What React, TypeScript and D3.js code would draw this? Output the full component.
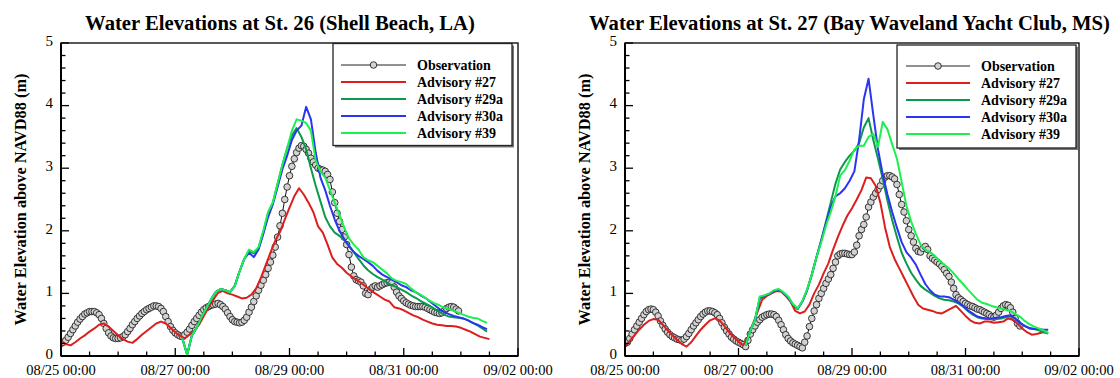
import React from "react";
import * as d3 from "d3";

// time axis: hours since 08/25 00:00 (UTC)
const BASE = Date.UTC(2005, 7, 25);
const END = Date.UTC(2005, 8, 2);

const seriesNames = ["Observation", "Advisory #27", "Advisory #29a", "Advisory #30a", "Advisory #39"];
const seriesColors = ["#222222", "#dc1e1e", "#0b9a4c", "#2b34f2", "#1cf04e"];

// ---------- St. 26 (Shell Beach, LA) ----------
// observation, hourly from t=0
const obs26 = [
  0.20, 0.22, 0.25, 0.30, 0.36, 0.42, 0.48, 0.54, 0.59, 0.63,
  0.67, 0.69, 0.71, 0.71, 0.71, 0.69, 0.66, 0.60, 0.52, 0.44,
  0.37, 0.32, 0.29, 0.28, 0.28, 0.29, 0.31, 0.34, 0.39, 0.44,
  0.50, 0.55, 0.60, 0.64, 0.68, 0.71, 0.74, 0.76, 0.78, 0.80,
  0.80, 0.79, 0.76, 0.71, 0.63, 0.55, 0.47, 0.41, 0.37, 0.34,
  0.32, 0.31, 0.34, 0.38, 0.43, 0.49, 0.55, 0.60, 0.65, 0.70,
  0.74, 0.77, 0.79, 0.81, 0.82, 0.83, 0.84, 0.82, 0.79, 0.75,
  0.69, 0.63, 0.58, 0.55, 0.54, 0.53, 0.54, 0.57, 0.62, 0.70,
  0.78, 0.87, 0.96, 1.05, 1.13, 1.21, 1.30, 1.40, 1.50, 1.61,
  1.74, 1.90, 2.08, 2.28, 2.50, 2.70, 2.88, 3.03, 3.15, 3.25,
  3.32, 3.36, 3.35, 3.30, 3.24, 3.16, 3.10, 3.05, 3.00, 2.98,
  2.97, 2.95, 2.90, 2.82, 2.62, 2.45, 2.28, 2.15, 2.02, 1.90,
  1.78, 1.62, 1.42, 1.28, 1.22, 1.20, 1.18, 1.12, 1.00, 0.98,
  1.06, 1.10, 1.12, 1.10, 1.12, 1.14, 1.16, 1.17, 1.18, 1.17,
  1.10, 1.02, 0.96, 0.92, 0.88, 0.85, 0.83, 0.81, 0.80, 0.79,
  0.79, 0.79, 0.79, 0.78, 0.76, 0.74, 0.72, 0.70, 0.69, 0.68,
  0.69, 0.72, 0.76, 0.78, 0.79, 0.78, 0.75, 0.72,
];
// Advisory #27, every 2 h from t=0
const adv27_26 = [
  0.24, 0.19, 0.17, 0.22, 0.28, 0.33, 0.39, 0.44, 0.50, 0.52,
  0.47, 0.40, 0.33, 0.27, 0.23, 0.21, 0.27, 0.34, 0.40, 0.46,
  0.52, 0.55, 0.52, 0.45, 0.38, 0.32, 0.28, 0.34, 0.40, 0.50,
  0.64, 0.78, 0.90, 1.01, 1.04, 1.00, 0.98, 0.95, 0.92, 0.93,
  0.98, 1.08, 1.25, 1.45, 1.65, 1.84, 1.98, 2.18, 2.37, 2.55,
  2.68, 2.58, 2.45, 2.30, 2.07, 1.97, 1.78, 1.57, 1.47, 1.41,
  1.33, 1.27, 1.22, 1.17, 1.11, 1.05, 1.00, 0.95, 0.90, 0.87,
  0.78, 0.76, 0.73, 0.69, 0.65, 0.62, 0.58, 0.55, 0.52, 0.50,
  0.49, 0.48, 0.48, 0.47, 0.45, 0.42, 0.39, 0.35, 0.31, 0.29, 0.27,
];
// Advisories #29a, #30a, #39, every 2 h from t=51
const adv29a_26 = [
  0.28, 0.02, 0.33, 0.45, 0.62, 0.76, 0.90, 1.02, 1.07, 1.05,
  1.02, 1.12, 1.35, 1.55, 1.68, 1.64, 1.72, 1.98, 2.28, 2.45,
  2.75, 3.05, 3.32, 3.52, 3.64, 3.50, 3.30, 3.00, 2.72, 2.47,
  2.22, 2.07, 1.97, 1.92, 1.85, 1.77, 1.66, 1.55, 1.45, 1.37,
  1.31, 1.26, 1.22, 1.17, 1.13, 1.10, 1.06, 1.02, 0.97, 0.93,
  0.88, 0.84, 0.80, 0.75, 0.70, 0.66, 0.63, 0.62, 0.61, 0.60,
  0.57, 0.53, 0.49, 0.44, 0.39,
];
const adv30a_26 = [
  0.28, 0.02, 0.33, 0.45, 0.62, 0.76, 0.90, 1.02, 1.07, 1.05,
  1.02, 1.12, 1.35, 1.55, 1.65, 1.58, 1.70, 1.95, 2.22, 2.42,
  2.70, 2.98, 3.20, 3.45, 3.60, 3.68, 3.98, 3.78, 3.25, 2.85,
  2.65, 2.40, 2.18, 2.00, 1.87, 1.75, 1.66, 1.60, 1.55, 1.50,
  1.44, 1.36, 1.30, 1.26, 1.22, 1.18, 1.13, 1.10, 1.05, 1.02,
  0.97, 0.93, 0.87, 0.81, 0.75, 0.70, 0.67, 0.64, 0.62, 0.60,
  0.57, 0.53, 0.50, 0.46, 0.43,
];
const adv39_26 = [
  0.28, 0.02, 0.33, 0.45, 0.62, 0.76, 0.90, 1.02, 1.07, 1.05,
  1.02, 1.12, 1.35, 1.55, 1.70, 1.66, 1.74, 2.00, 2.30, 2.45,
  2.75, 3.05, 3.32, 3.60, 3.78, 3.76, 3.72, 3.60, 3.12, 2.95,
  2.85, 2.65, 2.45, 2.26, 2.05, 1.88, 1.78, 1.70, 1.58, 1.53,
  1.50, 1.44, 1.38, 1.32, 1.24, 1.20, 1.18, 1.15, 1.08, 1.02,
  0.98, 0.93, 0.88, 0.84, 0.81, 0.77, 0.75, 0.72, 0.69, 0.66,
  0.63, 0.61, 0.60, 0.56, 0.53,
];

// ---------- St. 27 (Bay Waveland Yacht Club, MS) ----------
const obs27 = [
  0.20, 0.22, 0.28, 0.35, 0.42, 0.48, 0.54, 0.60, 0.66, 0.71,
  0.74, 0.75, 0.74, 0.70, 0.64, 0.56, 0.49, 0.43, 0.38, 0.34,
  0.31, 0.29, 0.27, 0.26, 0.25, 0.27, 0.31, 0.36, 0.42, 0.48,
  0.53, 0.58, 0.63, 0.67, 0.70, 0.72, 0.72, 0.71, 0.69, 0.66,
  0.60, 0.53, 0.46, 0.40, 0.35, 0.30, 0.27, 0.24, 0.22, 0.20,
  0.18, 0.15, 0.25, 0.35, 0.42, 0.48, 0.54, 0.58, 0.62, 0.64,
  0.66, 0.67, 0.67, 0.66, 0.63, 0.57, 0.50, 0.42, 0.34, 0.28,
  0.24, 0.21, 0.19, 0.17, 0.15, 0.13, 0.22, 0.32, 0.47, 0.60,
  0.72, 0.82, 0.92, 1.00, 1.08, 1.16, 1.23, 1.30, 1.40, 1.50,
  1.60, 1.63, 1.64, 1.64, 1.63, 1.62, 1.62, 1.66, 1.77, 1.92,
  2.02, 2.10, 2.22, 2.38, 2.46, 2.54, 2.60, 2.66, 2.72, 2.80,
  2.86, 2.88, 2.88, 2.86, 2.83, 2.74, 2.58, 2.42, 2.30, 2.16,
  2.02, 1.92, 1.82, 1.72, 1.67, 1.66, 1.72, 1.75, 1.70, 1.60,
  1.56, 1.53, 1.50, 1.47, 1.43, 1.38, 1.32, 1.27, 1.18, 1.08,
  0.98, 0.93, 0.90, 0.87, 0.84, 0.82, 0.80, 0.79, 0.77, 0.75,
  0.74, 0.72, 0.70, 0.68, 0.66, 0.63, 0.62, 0.65, 0.70, 0.76,
  0.80, 0.82, 0.81, 0.77, 0.70, 0.60, 0.52, 0.48,
];
const adv27_27 = [
  0.15, 0.24, 0.33, 0.42, 0.50, 0.56, 0.59, 0.58, 0.50, 0.41,
  0.33, 0.26, 0.19, 0.15, 0.22, 0.32, 0.42, 0.50, 0.57, 0.60,
  0.57, 0.48, 0.38, 0.30, 0.23, 0.17, 0.30, 0.50, 0.70, 0.90,
  0.96, 1.00, 1.04, 1.03, 0.96, 0.87, 0.72, 0.68, 0.71, 0.82,
  1.00, 1.14, 1.32, 1.48, 1.70, 1.90, 2.08, 2.24, 2.36, 2.50,
  2.65, 2.85, 2.84, 2.72, 2.45, 2.05, 1.74, 1.55, 1.40, 1.25,
  1.10, 0.95, 0.82, 0.76, 0.74, 0.72, 0.69, 0.68, 0.72, 0.76,
  0.80, 0.72, 0.64, 0.57, 0.53, 0.52, 0.55, 0.55, 0.53, 0.54,
  0.55, 0.60, 0.58, 0.52, 0.44, 0.38, 0.34, 0.35, 0.37, 0.39,
];
const adv29a_27 = [
  0.17, 0.40, 0.58, 0.92, 0.96, 0.99, 1.04, 1.06, 1.01, 0.94,
  0.82, 0.75, 0.87, 1.05, 1.30, 1.58, 1.85, 2.15, 2.45, 2.75,
  2.98, 3.10, 3.20, 3.28, 3.40, 3.65, 3.80, 3.45, 3.15, 2.83,
  2.48, 2.17, 1.90, 1.65, 1.48, 1.33, 1.22, 1.12, 1.06, 1.01,
  0.96, 0.92, 0.90, 0.89, 0.87, 0.84, 0.79, 0.72, 0.66, 0.62,
  0.60, 0.59, 0.59, 0.59, 0.60, 0.62, 0.63, 0.60, 0.53, 0.48,
  0.45, 0.43, 0.41, 0.38, 0.36,
];
const adv30a_27 = [
  0.17, 0.40, 0.58, 0.92, 0.96, 0.99, 1.04, 1.06, 1.01, 0.94,
  0.82, 0.75, 0.87, 1.05, 1.30, 1.58, 1.85, 2.12, 2.38, 2.55,
  2.60, 2.68, 2.80, 2.95, 3.45, 4.10, 4.43, 3.85, 3.30, 2.90,
  2.58, 2.30, 2.05, 1.82, 1.66, 1.57, 1.46, 1.30, 1.15, 1.05,
  0.98, 0.95, 0.95, 0.94, 0.90, 0.85, 0.80, 0.73, 0.68, 0.63,
  0.61, 0.60, 0.60, 0.61, 0.62, 0.64, 0.65, 0.60, 0.53, 0.48,
  0.44, 0.43, 0.43, 0.42, 0.42,
];
const adv39_27 = [
  0.17, 0.40, 0.58, 0.95, 0.97, 1.00, 1.05, 1.07, 1.02, 0.95,
  0.83, 0.76, 0.88, 1.06, 1.30, 1.58, 1.82, 2.08, 2.30, 2.55,
  2.88, 2.97, 3.12, 3.30, 3.36, 3.36, 3.50, 3.55, 3.34, 3.74,
  3.62, 3.38, 3.15, 2.78, 2.40, 2.15, 1.95, 1.78, 1.70, 1.66,
  1.60, 1.52, 1.46, 1.40, 1.32, 1.23, 1.15, 1.06, 0.98, 0.90,
  0.85, 0.83, 0.80, 0.78, 0.76, 0.74, 0.72, 0.67, 0.63, 0.56,
  0.51, 0.47, 0.44, 0.41, 0.37,
];

const yMax = 5;
const font = "'Liberation Serif', 'Times New Roman', serif";

type Pt = [Date, number];
const toPoints = (values: number[], startHour: number, stepHour: number): Pt[] =>
  values.map((v, i) => [new Date(BASE + (startHour + i * stepHour) * 3600000), v]);

type PanelProps = {
  id: string;
  left: number;
  right: number;
  title: string;
  titleX: number;
  obs: number[];
  models: number[][];
  legend: { x: number; y: number; w: number; h: number; l0: number; l1: number; tx: number; row0: number };
};

const Panel = ({ id, left, right, title, titleX, obs, models, legend }: PanelProps) => {
  const top = 43;
  const bottom = 356;
  const x = d3.scaleUtc().domain([new Date(BASE), new Date(END)]).range([left, right]);
  const y = d3.scaleLinear().domain([0, yMax]).range([bottom, top]);
  const line = d3
    .line<Pt>()
    .x((d) => x(d[0]))
    .y((d) => y(d[1]));

  const obsPts = toPoints(obs, 0, 1);
  const modelPts = [
    toPoints(models[0], 0, 2),
    toPoints(models[1], 51, 2),
    toPoints(models[2], 51, 2),
    toPoints(models[3], 51, 2),
  ];

  const xTicks = d3.utcHour.every(12)!.range(new Date(BASE), new Date(END + 1));
  const fmt = d3.utcFormat("%m/%d %H:%M");
  const yTicks = d3.range(0, 25.5, 1).map((k) => k / 5);

  return (
    <g>
      <defs>
        <clipPath id={`clip-${id}`}>
          <rect x={left} y={top - 2} width={right - left} height={bottom - top + 2} />
        </clipPath>
      </defs>
      <text
        x={titleX}
        y={30}
        textAnchor="middle"
        fontFamily={font}
        fontWeight="bold"
        fontSize={20.7}
      >
        {title}
      </text>
      <text
        transform={`translate(${left - 41},${(top + bottom) / 2}) rotate(-90)`}
        textAnchor="middle"
        dy="0.35em"
        fontFamily={font}
        fontWeight="bold"
        fontSize={16.3}
      >
        Water Elevation above NAVD88 (m)
      </text>

      {/* series */}
      <g clipPath={`url(#clip-${id})`}>
        <path d={line(obsPts) ?? ""} fill="none" stroke="#111" strokeWidth={1} />
        {obsPts.map((d, i) => (
          <circle key={i} cx={x(d[0])} cy={y(d[1])} r={3.3} fill="#d2d2d2" stroke="#222" strokeWidth={0.9} />
        ))}
        {modelPts.map((pts, i) => (
          <path
            key={i}
            d={line(pts) ?? ""}
            fill="none"
            stroke={seriesColors[i + 1]}
            strokeWidth={2}
            strokeLinejoin="round"
          />
        ))}
      </g>

      {/* frame */}
      <rect x={left} y={top} width={right - left} height={bottom - top} fill="none" stroke="#111" strokeWidth={1.4} />
      <line x1={left} x2={left} y1={top} y2={bottom} stroke="#000" strokeWidth={2} />
      <line x1={left} x2={right} y1={bottom} y2={bottom} stroke="#000" strokeWidth={2} />

      {/* x ticks */}
      {xTicks.map((t, i) => {
        const major = (t.getTime() - BASE) % (48 * 3600000) === 0;
        const px = x(t);
        return (
          <g key={i}>
            <line x1={px} x2={px} y1={bottom} y2={bottom - (major ? 8 : 4.5)} stroke="#000" strokeWidth={1.3} />
            {major && (
              <text x={px} y={374.6} textAnchor="middle" fontFamily={font} fontSize={14.5}>
                {fmt(t)}
              </text>
            )}
          </g>
        );
      })}

      {/* y ticks */}
      {yTicks.map((v, i) => {
        const major = i % 5 === 0;
        const py = y(v);
        return (
          <g key={i}>
            <line x1={left} x2={left + (major ? 8 : 4.5)} y1={py} y2={py} stroke="#000" strokeWidth={1.3} />
            {major && (
              <text x={left - 8} y={py} dy="0.18em" textAnchor="end" fontFamily={font} fontSize={15}>
                {d3.format("d")(v)}
              </text>
            )}
          </g>
        );
      })}

      {/* legend */}
      <rect x={legend.x + 2} y={legend.y + 2} width={legend.w} height={legend.h} fill="#777" />
      <rect x={legend.x} y={legend.y} width={legend.w} height={legend.h} fill="#fff" stroke="#222" strokeWidth={1.3} />
      {seriesNames.map((name, i) => {
        const ry = legend.row0 + i * 17;
        return (
          <g key={name}>
            <line
              x1={legend.l0}
              x2={legend.l1}
              y1={ry}
              y2={ry}
              stroke={seriesColors[i]}
              strokeWidth={i === 0 ? 1 : 2}
            />
            {i === 0 && (
              <circle
                cx={(legend.l0 + legend.l1) / 2}
                cy={ry}
                r={3.3}
                fill="#d2d2d2"
                stroke="#222"
                strokeWidth={0.9}
              />
            )}
            <text x={legend.tx} y={ry} dy="0.34em" fontFamily={font} fontWeight="bold" fontSize={14}>
              {name}
            </text>
          </g>
        );
      })}
    </g>
  );
};

export default function App() {
  return (
    <svg
      width={1120}
      height={378}
      style={{ position: "absolute", left: 0, top: 0, background: "#fff" }}
    >
      <rect width={1120} height={378} fill="#fff" />
      <Panel
        id="st26"
        left={61}
        right={518}
        title="Water Elevations at St. 26 (Shell Beach, LA)"
        titleX={280}
        obs={obs26}
        models={[adv27_26, adv29a_26, adv30a_26, adv39_26]}
        legend={{ x: 333, y: 43.5, w: 179, h: 102, l0: 341, l1: 406, tx: 417, row0: 65 }}
      />
      <Panel
        id="st27"
        left={625}
        right={1079}
        title="Water Elevations at St. 27 (Bay Waveland Yacht Club, MS)"
        titleX={849.5}
        obs={obs27}
        models={[adv27_27, adv29a_27, adv30a_27, adv39_27]}
        legend={{ x: 897, y: 45, w: 179, h: 103, l0: 906, l1: 970, tx: 981, row0: 66 }}
      />
    </svg>
  );
}
